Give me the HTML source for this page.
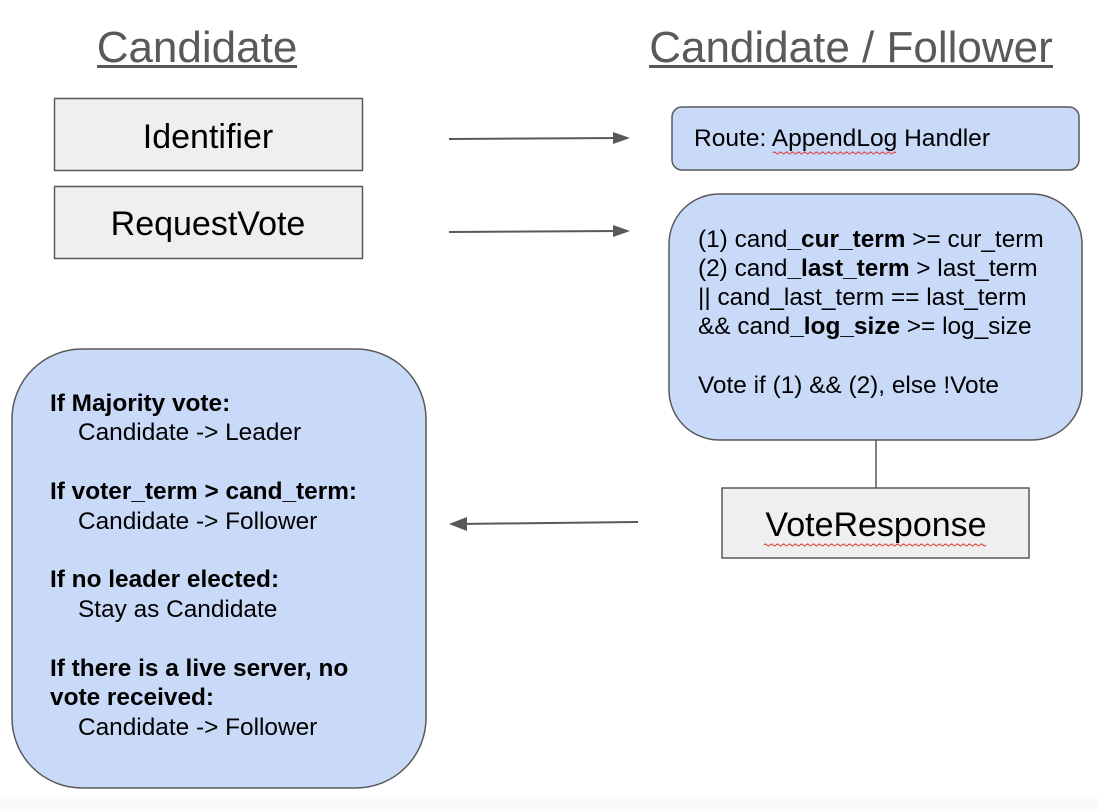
<!DOCTYPE html>
<html><head><meta charset="utf-8"><style>
html,body{margin:0;padding:0;background:#fff;}
svg{display:block;font-family:"Liberation Sans",Arial,sans-serif;}
</style></head><body>
<svg width="1097" height="811" viewBox="0 0 1097 811" xmlns="http://www.w3.org/2000/svg">
<rect x="0" y="797" width="1097" height="14" fill="#f8f9fa"/>
<!-- titles -->
<text x="197" y="62" font-size="44" fill="#595959" text-anchor="middle">Candidate</text>
<rect x="97" y="65" width="200" height="3" fill="#595959"/>
<text x="851" y="62" font-size="44" fill="#595959" text-anchor="middle">Candidate / Follower</text>
<rect x="649" y="65" width="404" height="3" fill="#595959"/>
<!-- left gray boxes -->
<rect x="54.5" y="98.5" width="308" height="72" fill="#efefef" stroke="#595959" stroke-width="1.5"/>
<text x="208" y="148" font-size="34" text-anchor="middle" fill="#000">Identifier</text>
<rect x="54.5" y="186.5" width="308" height="72" fill="#efefef" stroke="#595959" stroke-width="1.5"/>
<text x="208" y="235" font-size="34" text-anchor="middle" fill="#000">RequestVote</text>
<!-- arrows -->
<line x1="449" y1="139" x2="621" y2="138" stroke="#595959" stroke-width="2"/>
<path d="M613,132 L630,138 L613,144 z" fill="#595959"/>
<line x1="449" y1="232" x2="621" y2="231" stroke="#595959" stroke-width="2"/>
<path d="M613,225 L630,231 L613,237 z" fill="#595959"/>
<line x1="638" y1="522" x2="458" y2="524" stroke="#595959" stroke-width="2"/>
<path d="M467,517 L449,524 L467,531 z" fill="#595959"/>
<!-- route box -->
<rect x="672" y="107" width="407" height="63" rx="10" fill="#c9daf8" stroke="#595959" stroke-width="1.5"/>
<text x="694" y="146" font-size="24" fill="#000" textLength="296" lengthAdjust="spacingAndGlyphs">Route: AppendLog Handler</text>
<path d="M773,153 q1.5,-2 3,0 t3,0 t3,0 t3,0 t3,0 t3,0 t3,0 t3,0 t3,0 t3,0 t3,0 t3,0 t3,0 t3,0 t3,0 t3,0 t3,0 t3,0 t3,0 t3,0 t3,0 t3,0 t3,0 t3,0 t3,0 t3,0 t3,0 t3,0 t3,0 t3,0 t3,0 t3,0 t3,0 t3,0 t3,0 t3,0 t3,0 t3,0 t3,0 t3,0 t3,0" fill="none" stroke="#d93025" stroke-width="1"/>
<!-- condition box -->
<rect x="669" y="194" width="413" height="246" rx="50" fill="#c9daf8" stroke="#595959" stroke-width="1.5"/>
<g font-size="24.4" fill="#000">
<text x="698" y="247">(1) cand<tspan font-weight="bold">_cur_term</tspan> &gt;= cur_term</text>
<text x="698" y="276">(2) cand<tspan font-weight="bold">_last_term</tspan> &gt; last_term</text>
<text x="698" y="305">|| cand_last_term == last_term</text>
<text x="698" y="334">&amp;&amp; cand<tspan font-weight="bold">_log_size</tspan> &gt;= log_size</text>
<text x="698" y="393">Vote if (1) &amp;&amp; (2), else !Vote</text>
</g>
<line x1="876" y1="440" x2="876" y2="488" stroke="#595959" stroke-width="1.5"/>
<!-- vote response -->
<rect x="722" y="488" width="307" height="70" fill="#efefef" stroke="#595959" stroke-width="1.5"/>
<text x="876" y="536" font-size="34" text-anchor="middle" fill="#000">VoteResponse</text>
<path d="M764,545 q1.5,-2 3,0 t3,0 t3,0 t3,0 t3,0 t3,0 t3,0 t3,0 t3,0 t3,0 t3,0 t3,0 t3,0 t3,0 t3,0 t3,0 t3,0 t3,0 t3,0 t3,0 t3,0 t3,0 t3,0 t3,0 t3,0 t3,0 t3,0 t3,0 t3,0 t3,0 t3,0 t3,0 t3,0 t3,0 t3,0 t3,0 t3,0 t3,0 t3,0 t3,0 t3,0 t3,0 t3,0 t3,0 t3,0 t3,0 t3,0 t3,0 t3,0 t3,0 t3,0 t3,0 t3,0 t3,0 t3,0 t3,0 t3,0 t3,0 t3,0 t3,0 t3,0 t3,0 t3,0 t3,0 t3,0 t3,0 t3,0 t3,0 t3,0 t3,0 t3,0 t3,0 t3,0 t3,0" fill="none" stroke="#d93025" stroke-width="1"/>
<!-- left big box -->
<rect x="12" y="349" width="414" height="439" rx="70" fill="#c9daf8" stroke="#595959" stroke-width="1.5"/>
<g font-size="24.4" fill="#000">
<text x="50" y="411" font-weight="bold">If Majority vote:</text>
<text x="78" y="440">Candidate -&gt; Leader</text>
<text x="50" y="499" font-weight="bold">If voter_term &gt; cand_term:</text>
<text x="78" y="529">Candidate -&gt; Follower</text>
<text x="50" y="587" font-weight="bold">If no leader elected:</text>
<text x="78" y="617">Stay as Candidate</text>
<text x="50" y="676" font-weight="bold">If there is a live server, no</text>
<text x="50" y="705" font-weight="bold">vote received:</text>
<text x="78" y="735">Candidate -&gt; Follower</text>
</g>
</svg>
</body></html>
